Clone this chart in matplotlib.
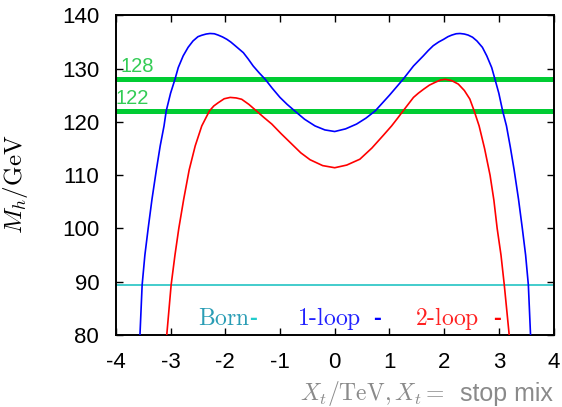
import matplotlib
matplotlib.use("Agg")
import matplotlib.pyplot as plt

# --- DATA ---
xt_1loop = [-3.56, -3.52, -3.47, -3.41, -3.34, -3.26, -3.19, -3.12, -3.08, -3.0, -2.92, -2.86,
            -2.77, -2.68, -2.59, -2.50, -2.43, -2.35, -2.28, -2.20, -2.13, -2.05, -1.97, -1.90,
            -1.83, -1.75, -1.67, -1.58, -1.49, -1.38, -1.27, -1.14, -1.0, -0.87, -0.73, -0.55,
            -0.36, -0.18, 0.0, 0.20, 0.40, 0.57, 0.74, 1.0, 1.25, 1.44, 1.62, 1.71, 1.80, 1.90,
            1.99, 2.07, 2.14, 2.22, 2.29, 2.37, 2.44, 2.52, 2.60, 2.70, 2.78, 2.87, 2.93, 3.0,
            3.07, 3.14, 3.21, 3.28, 3.36, 3.43, 3.49, 3.54, 3.58]
mh_1loop = [80, 89.4, 95, 100, 105.5, 111, 115.5, 119.25, 122.06, 125.4, 128, 130.2,
            132.4, 134.0, 135.2, 136.0, 136.27, 136.5, 136.6, 136.55, 136.3, 135.95, 135.5, 135.0,
            134.4, 133.7, 133, 131.8, 130.5, 129.2, 128, 126.3, 124.6, 123.3, 122.06, 120.5,
            119.25, 118.5, 118.2, 118.7, 119.6, 120.7, 122.06, 125.0, 128, 130.5, 132.4, 133.4, 134.3, 135.0,
            135.5, 136.0, 136.3, 136.55, 136.6, 136.5, 136.3, 135.9, 135.2, 134.0, 132.4, 130.2, 128, 125.4,
            122.06, 119.25, 115.3, 111, 105.5, 100, 95, 89.4, 80]

xt_2loop = [-3.07, -2.99, -2.92, -2.85, -2.76, -2.66, -2.55, -2.43, -2.29, -2.21, -2.13, -2.02,
            -1.91, -1.80, -1.70, -1.57, -1.43, -1.29, -1.15, -0.98, -0.80, -0.62, -0.45, -0.22,
            0.0, 0.22, 0.46, 0.68, 0.89, 1.04, 1.15, 1.25, 1.35, 1.44, 1.53, 1.62, 1.73, 1.83,
            1.93, 2.02, 2.14, 2.26, 2.37, 2.47, 2.55, 2.64, 2.74, 2.84, 2.91, 2.97, 3.04, 3.10, 3.19]
mh_2loop = [80, 89.4, 95, 100, 105.5, 111, 115.5, 119.25, 122.06, 123.0, 123.6, 124.35,
            124.6, 124.5, 124.25, 123.3, 122.06, 120.8, 119.6, 117.8, 116.0, 114.2, 112.9, 111.8,
            111.4, 111.9, 113.0, 115.1, 117.5, 119.25, 120.7, 122.06, 123.4, 124.6, 125.4, 126.1, 126.9, 127.4,
            127.85, 128.0, 127.75, 127.1, 125.9, 124.3, 122.06, 119.25, 115.0, 110, 105.3, 100, 95, 89.4, 80]

mh_born = 89.4
mh_bounds = [128, 122]
xticks = [-4, -3, -2, -1, 0, 1, 2, 3, 4]
yticks = [80, 90, 100, 110, 120, 130, 140]

# --- STYLE ---
plt.rcParams["font.family"] = ["Liberation Sans", "DejaVu Sans"]
plt.rcParams["mathtext.fontset"] = "cm"
plt.rcParams["axes.unicode_minus"] = False

fig = plt.figure(figsize=(5.62, 4.07), dpi=100)
ax = fig.add_axes([0.2062, 0.1769, 0.7787, 0.7853])

green = "#00cc33"
for m in mh_bounds:
    ax.axhline(m, color=green, lw=3.6, zorder=2)
ax.axhline(mh_born, color="#22c4c4", lw=1.2, zorder=2)
ax.plot(xt_1loop, mh_1loop, color="#0000ff", lw=1.2, zorder=3)
ax.plot(xt_2loop, mh_2loop, color="#ff0000", lw=1.2, zorder=3)

# labels on the green bands
ax.text(-3.92, 128.6, str(mh_bounds[0]), color="#33cc55", fontsize=14.5, va="bottom", ha="left")
ax.text(-4.0, 122.6, str(mh_bounds[1]), color="#33cc55", fontsize=14.5, va="bottom", ha="left")

# gnuplot style key along the bottom
key = [(-2.49, -1.56, "Born", "#2a9db5", "#22cccc"),
       (-0.69, 0.70, "1-loop", "#2222ff", "#0000ff"),
       (1.47, 2.89, "2-loop", "#ff2222", "#ff0000")]
for xl, xd, name, tc, lc in key:
    ax.text(xl, 81.9, r"$\mathrm{%s}$" % name.replace("-", "\\text{-}"), color=tc,
            fontsize=17, va="baseline", ha="left")
    ax.text(xd, 81.9, "-", color=lc, fontsize=17, va="baseline", ha="left",
            fontweight="bold")

ax.set_xlim(-4, 4)
ax.set_ylim(80, 140)
ax.set_xticks(xticks)
ax.set_yticks(yticks)
ax.tick_params(direction="in", length=5, width=1, top=True, right=True,
               labelsize=16, pad=12)
for s in ax.spines.values():
    s.set_linewidth(1.4)

ax.set_ylabel(r"$M_h/\mathrm{GeV}$", fontsize=18)
ax.yaxis.set_label_coords(-0.196, 0.47)

# x axis title: math part in CM, words in sans, as in the reference
fig.text(300 / 562, 1 - 394 / 407, r"$X_t/\mathrm{TeV},X_t=$",
         color="#8a8a8a", fontsize=17, ha="left", va="center")
fig.text(460 / 562, 1 - 394 / 407, "stop mix",
         color="#8a8a8a", fontsize=18, ha="left", va="center")

plt.savefig("out.png", dpi=100)
